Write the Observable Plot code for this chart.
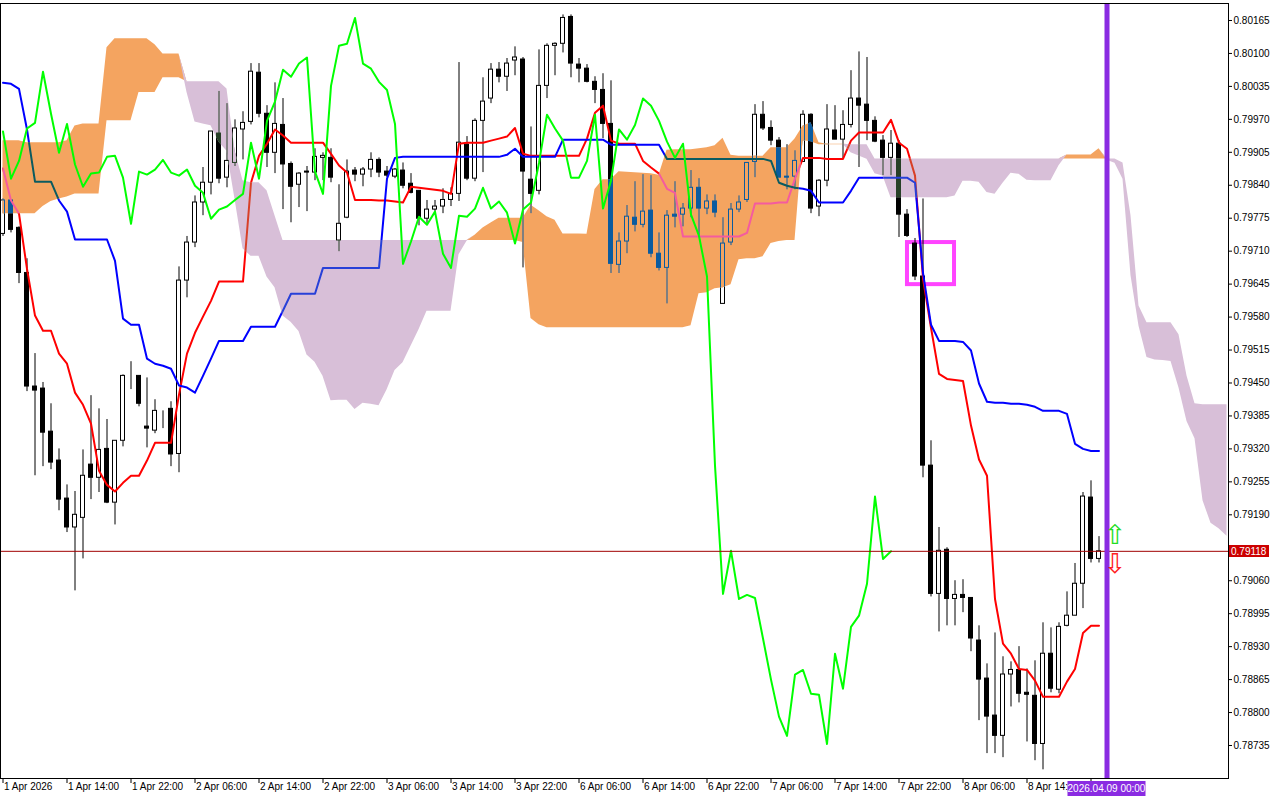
<!DOCTYPE html>
<html>
<head>
<meta charset="utf-8">
<script src="https://cdn.jsdelivr.net/npm/d3@7"></script>
<script src="https://cdn.jsdelivr.net/npm/@observablehq/plot@0.6"></script>
<style>
  html, body { margin: 0; padding: 0; background: #fff; overflow: hidden; }
  #chart { width: 1280px; height: 800px; }
</style>
</head>
<body>
<div id="chart"></div>
<script>
// ---------------- DATA (H1 candles, bar index 0 = 1 Apr 2026 06:00) ----------------
const open = [
0.79744,0.79810,0.79756,0.79667,0.79443,0.79439,0.79354,0.79297,0.79222,0.79165,
0.79184,0.79289,0.79263,0.79320,0.79214,0.79336,0.79462,0.79464,0.79364,0.79356,
0.79395,0.79399,0.79310,0.79652,0.79727,0.79806,0.79845,0.79942,0.79855,0.79884,
0.79950,0.79965,0.80062,0.79981,0.79904,0.79959,0.79882,0.79841,0.79867,0.79865,
0.79894,0.79894,0.79731,0.79776,0.79869,0.79861,0.79871,0.79890,0.79867,0.79857,
0.79869,0.79843,0.79829,0.79774,0.79792,0.79798,0.79811,0.79823,0.79920,0.79853,
0.79967,0.80011,0.80068,0.80054,0.80086,0.80088,0.79851,0.79829,0.80036,0.80115,
0.80119,0.80172,0.80078,0.80070,0.80044,0.80028,0.79961,0.79683,0.79729,0.79776,
0.79762,0.79790,0.79705,0.79677,0.79782,0.79782,0.79794,0.79835,0.79794,0.79808,
0.79606,0.79727,0.79792,0.79811,0.79886,0.79979,0.79953,0.79928,0.79857,0.79857,
0.79886,0.79979,0.79798,0.79849,0.79948,0.79930,0.79959,0.80011,0.79999,0.79967,
0.79928,0.79894,0.79922,0.79782,0.79725,0.79660,0.79287,0.79034,0.79121,0.79024,
0.79032,0.79026,0.78942,0.78867,0.78794,0.78754,0.78875,0.78884,0.78839,0.78833,
0.78738,0.78916,0.78845,0.78971,0.78991,0.79054,0.79224,0.79103];
const high = [
0.79813,0.79810,0.79758,0.79695,0.79508,0.79451,0.79409,0.79320,0.79249,0.79236,
0.79318,0.79425,0.79399,0.79378,0.79336,0.79466,0.79492,0.79464,0.79460,0.79417,
0.79395,0.79413,0.79679,0.79739,0.79819,0.79875,0.79946,0.80025,0.80001,0.79969,
0.79985,0.80080,0.80080,0.79997,0.80042,0.80011,0.79886,0.79865,0.79877,0.79912,
0.79904,0.79912,0.79841,0.79890,0.79875,0.79875,0.79904,0.79894,0.79877,0.79873,
0.79884,0.79863,0.79829,0.79810,0.79810,0.79833,0.79835,0.80082,0.79936,0.79971,
0.80052,0.80080,0.80082,0.80090,0.80113,0.80092,0.79955,0.80107,0.80119,0.80121,
0.80176,0.80176,0.80090,0.80078,0.80054,0.80060,0.80046,0.79746,0.79800,0.79847,
0.79861,0.79859,0.79746,0.79790,0.79847,0.79804,0.79869,0.79853,0.79821,0.79821,
0.79776,0.79804,0.79819,0.79884,0.79999,0.80005,0.79967,0.79934,0.79920,0.79908,
0.79987,0.79981,0.79851,0.79999,0.79997,0.79987,0.80066,0.80103,0.80092,0.79975,
0.79938,0.79948,0.79928,0.79792,0.79735,0.79813,0.79336,0.79165,0.79125,0.79060,
0.79062,0.79026,0.78971,0.78896,0.78957,0.78910,0.78900,0.78930,0.78886,0.78902,
0.78977,0.78967,0.78977,0.79038,0.79094,0.79234,0.79257,0.79147];
const low = [
0.79739,0.79746,0.79646,0.79433,0.79267,0.79285,0.79279,0.79198,0.79155,0.79040,
0.79103,0.79220,0.79234,0.79212,0.79170,0.79324,0.79437,0.79403,0.79322,0.79350,
0.79360,0.79285,0.79273,0.79618,0.79717,0.79780,0.79821,0.79843,0.79835,0.79877,
0.79890,0.79959,0.79973,0.79875,0.79863,0.79792,0.79766,0.79796,0.79788,0.79849,
0.79849,0.79845,0.79709,0.79774,0.79847,0.79837,0.79855,0.79855,0.79855,0.79853,
0.79833,0.79823,0.79760,0.79764,0.79784,0.79784,0.79798,0.79808,0.79849,0.79847,
0.79865,0.80001,0.80042,0.80025,0.80056,0.79677,0.79784,0.79821,0.80011,0.80056,
0.80101,0.80052,0.80042,0.80042,0.80001,0.79932,0.79666,0.79666,0.79705,0.79748,
0.79756,0.79697,0.79671,0.79606,0.79756,0.79758,0.79776,0.79740,0.79782,0.79776,
0.79606,0.79721,0.79786,0.79806,0.79855,0.79948,0.79918,0.79855,0.79831,0.79831,
0.79886,0.79784,0.79778,0.79837,0.79930,0.79892,0.79953,0.79875,0.79928,0.79924,
0.79859,0.79859,0.79737,0.79737,0.79652,0.79263,0.79028,0.78959,0.78971,0.78971,
0.78997,0.78920,0.78784,0.78719,0.78719,0.78711,0.78811,0.78819,0.78742,0.78705,
0.78687,0.78839,0.78837,0.78969,0.78991,0.79005,0.79095,0.79095];
const close = [
0.79810,0.79752,0.79667,0.79443,0.79435,0.79352,0.79293,0.79220,0.79165,0.79190,
0.79267,0.79263,0.79318,0.79214,0.79336,0.79464,0.79462,0.79409,0.79360,0.79395,
0.79395,0.79309,0.79652,0.79727,0.79806,0.79845,0.79946,0.79853,0.79888,0.79952,
0.79963,0.80064,0.79981,0.79904,0.79961,0.79881,0.79837,0.79863,0.79865,0.79896,
0.79898,0.79855,0.79764,0.79867,0.79861,0.79871,0.79890,0.79865,0.79859,0.79871,
0.79839,0.79825,0.79774,0.79792,0.79798,0.79811,0.79823,0.79924,0.79853,0.79967,
0.80005,0.80068,0.80054,0.80080,0.80092,0.79867,0.79823,0.80036,0.80115,0.80119,
0.80170,0.80080,0.80070,0.80044,0.80028,0.79961,0.79685,0.79729,0.79778,0.79762,
0.79788,0.79705,0.79677,0.79780,0.79778,0.79794,0.79835,0.79794,0.79808,0.79786,
0.79725,0.79792,0.79806,0.79884,0.79979,0.79952,0.79928,0.79855,0.79855,0.79888,
0.79979,0.79794,0.79849,0.79950,0.79930,0.79959,0.80011,0.79997,0.79967,0.79926,
0.79894,0.79922,0.79782,0.79740,0.79660,0.79287,0.79034,0.79119,0.79024,0.79032,
0.79026,0.78946,0.78865,0.78792,0.78754,0.78875,0.78884,0.78837,0.78835,0.78738,
0.78916,0.78847,0.78969,0.78991,0.79054,0.79226,0.79103,0.79118];

// Ichimoku lines (Tenkan-sen red, Kijun-sen blue), one value per bar
const tenkan = [
0.79873,0.79810,0.79784,0.79675,0.79583,0.79553,0.79553,0.79508,0.79488,0.79431,
0.79407,0.79370,0.79277,0.79249,0.79236,0.79253,0.79267,0.79267,0.79297,0.79332,
0.79332,0.79332,0.79427,0.79508,0.79549,0.79581,0.79612,0.79650,0.79650,0.79650,
0.79650,0.79845,0.79898,0.79922,0.79950,0.79938,0.79924,0.79924,0.79924,0.79924,
0.79924,0.79902,0.79879,0.79865,0.79811,0.79811,0.79811,0.79810,0.79810,0.79808,
0.79806,0.79837,0.79835,0.79833,0.79831,0.79829,0.79823,0.79922,0.79924,0.79924,
0.79924,0.79928,0.79932,0.79936,0.79953,0.79902,0.79898,0.79898,0.79898,0.79898,
0.79898,0.79898,0.79898,0.79932,0.79983,0.79997,0.79928,0.79922,0.79922,0.79922,
0.79888,0.79875,0.79863,0.79833,0.79825,0.79739,0.79739,0.79739,0.79739,0.79739,
0.79739,0.79739,0.79739,0.79746,0.79804,0.79804,0.79804,0.79806,0.79806,0.79853,
0.79894,0.79894,0.79894,0.79892,0.79892,0.79892,0.79928,0.79944,0.79944,0.79944,
0.79944,0.79969,0.79924,0.79912,0.79859,0.79656,0.79559,0.79468,0.79458,0.79456,
0.79454,0.79366,0.79299,0.79267,0.79024,0.78936,0.78916,0.78886,0.78884,0.78863,
0.78831,0.78831,0.78831,0.78861,0.78886,0.78957,0.78971,0.78971];
const kijun = [
0.80042,0.80040,0.80030,0.79950,0.79847,0.79847,0.79847,0.79810,0.79788,0.79733,
0.79733,0.79733,0.79733,0.79733,0.79691,0.79577,0.79565,0.79565,0.79498,0.79488,
0.79484,0.79478,0.79445,0.79441,0.79431,0.79464,0.79498,0.79533,0.79533,0.79533,
0.79533,0.79561,0.79561,0.79561,0.79561,0.79593,0.79626,0.79626,0.79626,0.79626,
0.79677,0.79677,0.79677,0.79677,0.79677,0.79677,0.79677,0.79677,0.79853,0.79894,
0.79896,0.79896,0.79896,0.79896,0.79896,0.79896,0.79896,0.79896,0.79896,0.79896,
0.79896,0.79896,0.79896,0.79900,0.79912,0.79896,0.79896,0.79896,0.79896,0.79896,
0.79930,0.79930,0.79930,0.79930,0.79930,0.79930,0.79920,0.79920,0.79920,0.79920,
0.79920,0.79920,0.79920,0.79892,0.79892,0.79892,0.79892,0.79892,0.79892,0.79892,
0.79892,0.79892,0.79892,0.79892,0.79892,0.79892,0.79888,0.79845,0.79839,0.79835,
0.79833,0.79829,0.79806,0.79806,0.79806,0.79806,0.79829,0.79855,0.79855,0.79855,
0.79855,0.79855,0.79855,0.79855,0.79845,0.79667,0.79565,0.79533,0.79533,0.79533,
0.79531,0.79514,0.79449,0.79413,0.79411,0.79411,0.79409,0.79409,0.79407,0.79403,
0.79395,0.79395,0.79395,0.79389,0.79330,0.79320,0.79316,0.79316];

// Senkou Span A and B (already displaced 26 bars forward), bars 0..153
const spanA = [
0.79928,0.79928,0.79928,0.79924,0.79924,0.79924,0.79924,0.79924,0.79928,0.79957,
0.79961,0.79961,0.79961,0.80111,0.80129,0.80129,0.80129,0.80129,0.80129,0.80117,
0.80099,0.80099,0.80099,0.80023,0.79965,0.79961,0.799575,0.79925,0.79907,0.798125,
0.79715,0.79700,0.79700,0.79659,0.79638,0.79582,0.79570,0.795515,0.79505,0.79491,
0.794635,0.79415,0.79416,0.79416,0.793975,0.79410,0.79408,0.79405,0.79436,0.794745,
0.79490,0.795225,0.79555,0.795915,0.795915,0.795915,0.795915,0.79703,0.797295,0.797415,
0.797555,0.797655,0.79775,0.79775,0.79775,0.79775,0.798005,0.797895,0.79778,0.79771,
0.79744,0.79744,0.79744,0.797435,0.798315,0.79851,0.79851,0.798665,0.798655,0.798645,
0.798635,0.798625,0.798595,0.79909,0.79910,0.79910,0.79910,0.79912,0.79914,0.79918,
0.799325,0.79899,0.79897,0.79897,0.79897,0.79897,0.79914,0.79914,0.79914,0.79931,
0.799565,0.799635,0.79924,0.79921,0.79921,0.79921,0.79904,0.798975,0.798915,0.798625,
0.798585,0.798155,0.798155,0.798155,0.798155,0.798155,0.798155,0.798155,0.798155,0.79819,
0.79848,0.79848,0.79846,0.798255,0.798225,0.79844,0.798635,0.798615,0.79850,0.79849,
0.79849,0.79849,0.798785,0.798995,0.798995,0.798995,0.798995,0.79912,0.798895,0.798835,
0.79852,0.796615,0.79562,0.795005,0.794955,0.794945,0.794925,0.79440,0.79374,0.79340,
0.792175,0.791735,0.791625,0.791475];
const spanB = [
0.79784,0.79784,0.79784,0.79784,0.79784,0.79798,0.79808,0.79813,0.79817,0.79823,
0.79823,0.79823,0.79823,0.79967,0.79967,0.79967,0.79967,0.80023,0.80023,0.80023,
0.80052,0.80052,0.80052,0.80044,0.80044,0.80044,0.80044,0.80044,0.80030,0.79908,
0.79849,0.79845,0.79845,0.79829,0.79780,0.79731,0.79731,0.79731,0.79731,0.79731,
0.79731,0.79731,0.79731,0.79731,0.79731,0.79731,0.79731,0.79731,0.79731,0.79731,
0.79731,0.79731,0.79731,0.79731,0.79731,0.79731,0.79731,0.79731,0.79731,0.79731,
0.79731,0.79731,0.79731,0.79731,0.79731,0.79727,0.79577,0.79565,0.79559,0.79559,
0.79559,0.79559,0.79559,0.79559,0.79559,0.79559,0.79559,0.79559,0.79559,0.79559,
0.79559,0.79559,0.79559,0.79559,0.79559,0.79559,0.79563,0.79626,0.79628,0.79636,
0.79638,0.79644,0.79693,0.79695,0.79695,0.79699,0.79725,0.79729,0.79731,0.79731,
0.79928,0.79926,0.79920,0.79920,0.79920,0.79920,0.79920,0.79920,0.79920,0.79892,
0.79892,0.79892,0.79892,0.79892,0.79892,0.79892,0.79892,0.79892,0.79892,0.79892,
0.79892,0.79892,0.79892,0.79892,0.79892,0.79892,0.79892,0.79892,0.79892,0.79892,
0.79892,0.79892,0.79892,0.79892,0.79892,0.79892,0.79892,0.79892,0.79892,0.79892,
0.79884,0.79780,0.79602,0.79569,0.79569,0.79569,0.79569,0.79545,0.79464,0.79409,
0.79407,0.79407,0.79407,0.79407];

// Axis ticks and labels (the 8 Apr 22:00 label is hidden under the time marker)
const yTicks = [0.80165,0.80100,0.80035,0.79970,0.79905,0.79840,0.79775,0.79710,0.79645,0.79580,
  0.79515,0.79450,0.79385,0.79320,0.79255,0.79190,0.79060,0.78995,0.78930,0.78865,0.78800,0.78735];
const xTickBars = [0,8,16,24,32,40,48,56,64,72,80,88,96,104,112,120,128,136];
const xLabelBars = [0,8,16,24,32,40,48,56,64,72,80,88,96,104,112,120,128];
const xTickLabels = ["1 Apr 2026","1 Apr 14:00","1 Apr 22:00","2 Apr 06:00","2 Apr 14:00","2 Apr 22:00",
  "3 Apr 06:00","3 Apr 14:00","3 Apr 22:00","6 Apr 06:00","6 Apr 14:00","6 Apr 22:00","7 Apr 06:00",
  "7 Apr 14:00","7 Apr 22:00","8 Apr 06:00","8 Apr 14:00"];

// Annotations
const chikouShift = 26;
const lastPrice = 0.79118;
const markerBar = 138;                    // vertical line at 2026.04.09 00:00
const markerLabel = "2026.04.09 00:00";
const highlightBox = [{x1: 113.06, x2: 118.94, y1: 0.79727, y2: 0.79644}];
const arrows = [{bar: 139, price: 0.79149, glyph: "\u21E7", color: "#22dd22"},
                {bar: 139, price: 0.79092, glyph: "\u21E9", color: "#ff2020"}];

// colours
const bullCloud = "#f4a460", bearCloud = "#d8bfd8";
const tenkanColor = "#ff0000", kijunColor = "#0000ff", chikouColor = "#00ff00";

// ---------------- BUILD TABLES ----------------
const bars = open.map((o, i) => ({i, open: o, high: high[i], low: low[i], close: close[i]}));
const up = bars.filter(d => d.close >= d.open);
const down = bars.filter(d => d.close < d.open);
const tenkanData = tenkan.map((v, i) => ({i, v}));
const kijunData = kijun.map((v, i) => ({i, v}));
const chikouData = close.slice(chikouShift).map((v, i) => ({i, v}));
const cloud = spanA.map((a, i) => ({i, a, b: spanB[i], top: Math.max(a, spanB[i])}));
const xLabelData = xLabelBars.map((b, k) => ({bar: b, label: xTickLabels[k]}));

const fig = Plot.plot({
  width: 1280, height: 800,
  marginLeft: 0, marginRight: 52, marginTop: 3, marginBottom: 22,
  style: {fontFamily: "'Liberation Sans', Arial, sans-serif", fontSize: "10px", background: "white", color: "black"},
  x: {type: "linear", domain: [-0.3125, 153.1875], ticks: xTickBars, tickFormat: () => "", tickSize: 5, label: null},
  y: {type: "linear", domain: [0.786699, 0.801985], axis: "right", ticks: yTicks,
      tickFormat: d => d.toFixed(5), tickSize: 3, tickPadding: 2, label: null},
  marks: [
    Plot.frame({fill: "white"}),
    Plot.rect(highlightBox, {x1: "x1", x2: "x2", y1: "y1", y2: "y2", fill: "none", stroke: "#ff44ff", strokeWidth: 4}),
    Plot.ruleX(bars, {x: "i", y1: "low", y2: "high", stroke: "black", strokeWidth: 1}),
    Plot.rect(up, {x1: d => d.i - 0.25, x2: d => d.i + 0.25, y1: "open", y2: "close", fill: "white", stroke: "black", strokeWidth: 1}),
    Plot.rect(down, {x1: d => d.i - 0.25, x2: d => d.i + 0.25, y1: "open", y2: "close", fill: "black", stroke: "black", strokeWidth: 1}),
    Plot.lineY(tenkanData, {x: "i", y: "v", stroke: tenkanColor, strokeWidth: 2}),
    Plot.lineY(kijunData, {x: "i", y: "v", stroke: kijunColor, strokeWidth: 2}),
    Plot.areaY(cloud, {x: "i", y1: "b", y2: "top", fill: bullCloud}),
    Plot.areaY(cloud, {x: "i", y1: "a", y2: "top", fill: bearCloud}),
    Plot.lineY(chikouData, {x: "i", y: "v", stroke: chikouColor, strokeWidth: 2}),
    Plot.ruleY([lastPrice], {stroke: "#a00000", strokeWidth: 1}),
    Plot.ruleX([markerBar], {stroke: "blueviolet", strokeWidth: 5}),
    Plot.text(arrows, {x: "bar", y: "price", text: "glyph", fill: "color", fontSize: 27, fontFamily: "DejaVu Sans"}),
    Plot.text(xLabelData, {x: "bar", text: "label", frameAnchor: "bottom", dy: 11, dx: 1, textAnchor: "start", fill: "black"}),
    Plot.frame({stroke: "black"})
  ]
});
document.getElementById("chart").append(fig);
const svgEl = fig.tagName.toLowerCase() === "svg" ? fig : fig.querySelector("svg");
const svg = d3.select(svgEl);

// Where the cloud covers candles / Tenkan / Kijun, the terminal shows them in the
// cloud's "difference" colours: repeat those marks, recoloured, clipped to the cloud.
function findGroup(attr, value) {
  return Array.from(svgEl.querySelectorAll(":scope > g")).find(g => (g.getAttribute(attr) || "").toLowerCase() === value.toLowerCase());
}
function findGroupAll(attr, value) {
  return Array.from(svgEl.querySelectorAll(":scope > g")).filter(g => (g.getAttribute(attr) || "").toLowerCase() === value.toLowerCase());
}
const bullG = findGroup("fill", bullCloud), bearG = findGroup("fill", bearCloud);
const sources = [
  findGroupAll("stroke", "black").find(g => g.getAttribute("aria-label") === "rule"),
  findGroupAll("fill", "white").find(g => g.getAttribute("aria-label") === "rect"),
  findGroupAll("fill", "black").find(g => g.getAttribute("aria-label") === "rect"),
  findGroup("stroke", tenkanColor),
  findGroup("stroke", kijunColor)
].filter(Boolean);

function diffBase(cloudColor) { const c = d3.rgb(cloudColor); return d3.rgb(255 - c.r, 255 - c.g, 255 - c.b); }
function diffColor(str, base) {
  const c = d3.color(str); if (!c) return str;
  const r = c.rgb();
  return `rgb(${Math.abs(r.r - base.r)},${Math.abs(r.g - base.g)},${Math.abs(r.b - base.b)})`;
}
function recolor(node, base) {
  [node, ...node.querySelectorAll("*")].forEach(el => {
    for (const a of ["fill", "stroke"]) {
      const v = el.getAttribute(a);
      if (v && v !== "none") el.setAttribute(a, diffColor(v, base));
    }
  });
}
try {
  const defs = svg.insert("defs", ":first-child");
  let anchor = bearG;
  [[bullG, bullCloud, "clip-bull"], [bearG, bearCloud, "clip-bear"]].forEach(([g, col, id]) => {
    if (!g || !anchor) return;
    const cp = defs.append("clipPath").attr("id", id);
    g.querySelectorAll("path").forEach(p => {
      const np = cp.append("path").attr("d", p.getAttribute("d"));
      const t = [g.getAttribute("transform"), p.getAttribute("transform")].filter(Boolean).join(" ");
      if (t) np.attr("transform", t);
    });
    const wrap = document.createElementNS("http://www.w3.org/2000/svg", "g");
    wrap.setAttribute("clip-path", `url(#${id})`);
    const base = diffBase(col);
    sources.forEach(src => {
      const clone = src.cloneNode(true);
      recolor(clone, base);
      wrap.appendChild(clone);
    });
    anchor.after(wrap);
    anchor = wrap;
  });
} catch (e) { console.error(e); }

// price label and marker label positioned via the plot's own scales
const ysc = fig.scale("y"), xsc = fig.scale("x");
const yS = d3.scaleLinear(ysc.domain, ysc.range);
const xS = d3.scaleLinear(xsc.domain, xsc.range);
const py = Math.round(yS(lastPrice));
const g = svg.append("g").attr("font-family", "'Liberation Sans', Arial, sans-serif").attr("font-size", 10);
g.append("rect").attr("x", 1229).attr("y", py - 6).attr("width", 40).attr("height", 12).attr("fill", "#cc0000");
g.append("text").attr("x", 1231).attr("y", py).attr("dy", "0.35em").attr("text-anchor", "start").attr("fill", "white")
  .text(lastPrice.toFixed(5));
const mx = xS(markerBar);
g.append("rect").attr("x", mx - 39).attr("y", 781).attr("width", 78).attr("height", 15).attr("fill", "blueviolet");
g.append("text").attr("x", mx).attr("y", 788.5).attr("dy", "0.35em").attr("text-anchor", "middle").attr("fill", "white")
  .text(markerLabel);
</script>
</body>
</html>
